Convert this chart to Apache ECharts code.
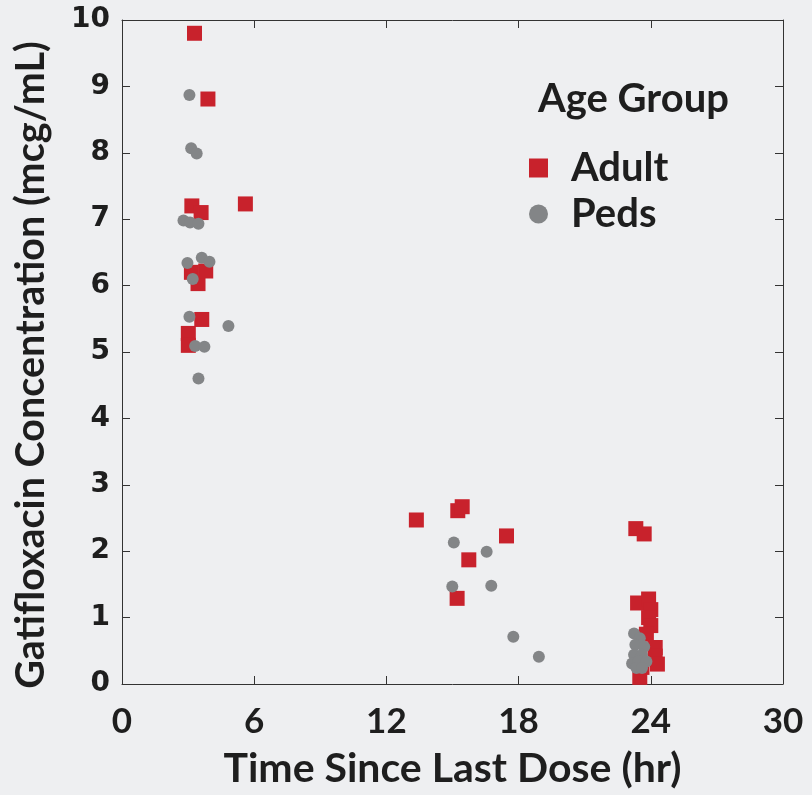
<!DOCTYPE html>
<html>
<head>
<meta charset="utf-8">
<script src="https://cdn.jsdelivr.net/npm/echarts@6/dist/echarts.min.js"></script>
<style>
html,body{margin:0;padding:0;background:#eeeff1;}
#chart{width:812px;height:795px;}
</style>
</head>
<body>
<div id="chart"></div>
<script>
const xTitle = 'Time Since Last Dose (hr)';
const yTitle = 'Gatifloxacin Concentration (mcg/mL)';
const legendTitle = 'Age Group';
const seriesNames = ['Adult', 'Peds'];

const adultData = [
  [3.29, 9.80], [3.90, 8.81], [5.60, 7.23], [3.17, 7.20], [3.59, 7.10],
  [3.15, 6.20], [3.45, 6.03], [3.80, 6.22], [3.62, 5.49], [3.01, 5.28], [3.01, 5.10],
  [13.36, 2.47], [15.24, 2.61], [15.44, 2.67], [17.45, 2.23], [15.74, 1.87], [15.21, 1.29],
  [23.32, 2.34], [23.70, 2.26], [23.40, 1.22], [23.90, 1.28], [24.00, 1.12], [23.90, 1.00],
  [24.00, 0.88], [23.80, 0.75], [24.20, 0.55], [24.20, 0.42], [24.30, 0.30], [23.50, 0.10], [23.60, 0.25]
];
const pedsData = [
  [3.06, 8.87], [3.14, 8.07], [3.39, 7.99], [2.79, 6.98], [3.09, 6.95], [3.47, 6.93],
  [2.97, 6.34], [3.62, 6.42], [3.97, 6.36], [3.21, 6.10], [3.06, 5.53], [3.32, 5.09],
  [3.74, 5.08], [4.83, 5.39], [3.47, 4.60],
  [15.06, 2.13], [16.55, 1.99], [14.99, 1.47], [16.76, 1.48], [17.76, 0.71], [18.92, 0.41],
  [23.24, 0.76], [23.50, 0.69], [23.30, 0.59], [23.70, 0.56], [23.24, 0.44], [23.60, 0.44],
  [23.15, 0.31], [23.45, 0.34], [23.80, 0.34], [23.35, 0.24], [23.60, 0.24]
];

const chart = echarts.init(document.getElementById('chart'));
const axisColor = '#333';
const lato = 'Lato, "Open Sans", sans-serif';
const tickStyle = {show: true, inside: true, length: 8, lineStyle: {color: axisColor, width: 1}};
chart.setOption({
  backgroundColor: '#eeeff1',
  animation: false,
  title: {
    text: legendTitle, left: 533, top: 74,
    textStyle: {fontFamily: lato, fontWeight: 'bold', fontSize: 40, color: '#1e1e1e'}
  },
  legend: {
    data: [{name: 'Adult', icon: 'rect'}, {name: 'Peds', icon: 'circle'}],
    orient: 'vertical', left: 524, top: 143, itemGap: 6,
    itemWidth: 19, itemHeight: 19,
    textStyle: {fontFamily: lato, fontWeight: 'bold', fontSize: 40, color: '#1e1e1e', padding: [0, 0, 0, 18]}
  },
  grid: {left: 122, right: 29, top: 20, bottom: 111},
  xAxis: [{
    type: 'value', min: 0, max: 30, interval: 6, position: 'bottom',
    name: xTitle, nameLocation: 'middle', nameGap: 64,
    nameTextStyle: {fontFamily: lato, fontWeight: 'bold', fontSize: 41, color: '#1e1e1e'},
    axisLine: {show: true, onZero: false, lineStyle: {color: axisColor, width: 1}},
    axisTick: tickStyle,
    axisLabel: {fontFamily: lato, fontWeight: 'bold', fontSize: 35, color: '#1e1e1e', margin: 20},
    splitLine: {show: false}
  }, {
    type: 'value', min: 0, max: 30, interval: 6, position: 'top',
    axisLine: {show: true, onZero: false, lineStyle: {color: axisColor, width: 1}},
    axisTick: tickStyle, axisLabel: {show: false}, splitLine: {show: false}
  }],
  yAxis: [{
    type: 'value', min: 0, max: 10, interval: 1, position: 'left',
    name: yTitle, nameLocation: 'middle', nameGap: 71, nameRotate: 90,
    nameTextStyle: {fontFamily: lato, fontWeight: 'bold', fontSize: 39.5, color: '#1e1e1e', padding: [0, 26, 0, 0]},
    axisLine: {show: true, onZero: false, lineStyle: {color: axisColor, width: 1}},
    axisTick: tickStyle,
    axisLabel: {fontFamily: '"DejaVu Sans", Verdana, sans-serif', fontWeight: 'bold', fontSize: 28, color: '#1e1e1e', margin: 12},
    splitLine: {show: false}
  }, {
    type: 'value', min: 0, max: 10, interval: 1, position: 'right',
    axisLine: {show: true, onZero: false, lineStyle: {color: axisColor, width: 1}},
    axisTick: tickStyle, axisLabel: {show: false}, splitLine: {show: false}
  }],
  series: [{
    name: seriesNames[0], type: 'scatter', symbol: 'rect', symbolSize: 15,
    itemStyle: {color: '#c8222c', opacity: 1},
    data: adultData, z: 2
  }, {
    name: seriesNames[1], type: 'scatter', symbol: 'circle', symbolSize: 12,
    itemStyle: {color: '#838587', opacity: 1},
    data: pedsData, z: 3
  }]
});
</script>
</body>
</html>
